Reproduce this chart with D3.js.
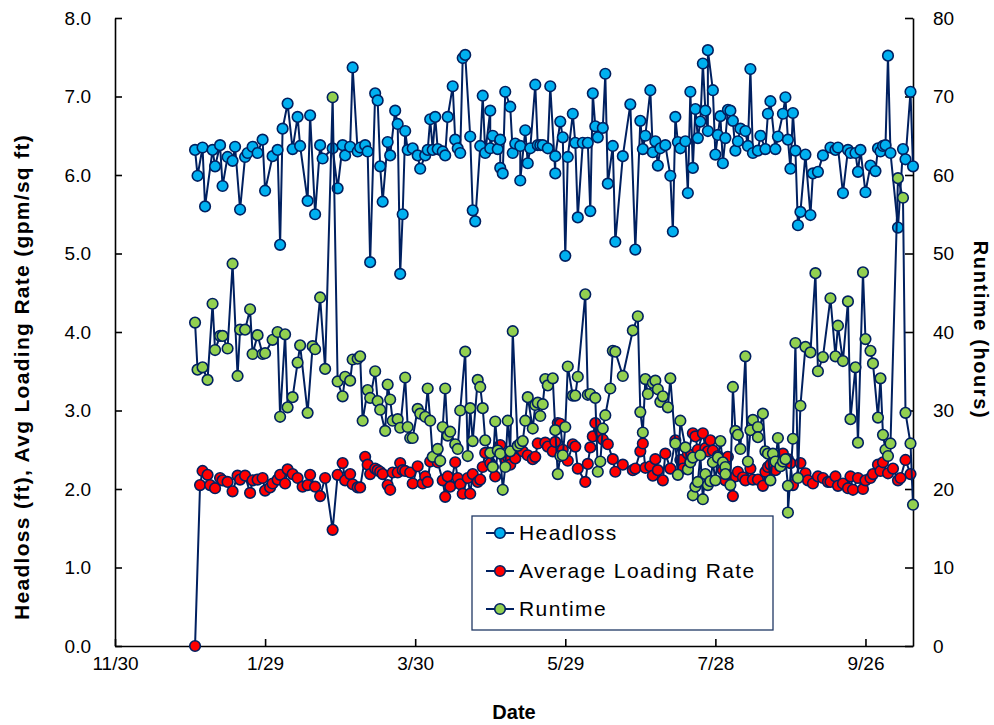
<!DOCTYPE html>
<html>
<head>
<meta charset="utf-8">
<script src="https://cdn.jsdelivr.net/npm/d3@7"></script>
<style>
  html, body { margin: 0; padding: 0; background: #fff; }
  svg { display: block; font-family: "Liberation Sans", Arial, sans-serif; }
</style>
</head>
<body>
<svg id="chart" width="994" height="725"></svg>
<script>
// Filter monitoring record: sample day (days after 11/30), headloss (ft),
// average loading rate (gpm/sq ft) and filter runtime (hours).
const startDate = new Date(2008, 10, 30);

const headlossDays = [32,33,35,36,39,40,42,43,45,47,48,50,52,53,55,57,59,60,63,65,66,67,69,71,73,74,77,78,80,82,83,87,89,91,92,94,95,97,98,100,101,102,104,105,106,107,109,110,112,113,114,115,116,117,119,121,122,124,125,126,127,128,129,131,132,133,135,136,137,138,139,140,142,143,144,146,147,148,150,150,151,153,154,154,155,156,158,159,160,162,162,164,165,166,168,169,170,171,173,174,176,176,178,179,180,181,183,184,185,187,189,190,191,192,193,195,196,197,199,200,203,206,208,210,211,212,214,215,216,217,218,220,222,223,224,225,226,228,229,230,231,232,233,234,235,236,237,237,239,240,241,242,243,244,245,246,247,248,249,250,252,253,254,255,257,258,260,261,262,264,265,267,268,269,270,271,272,273,274,276,278,279,281,283,286,288,289,291,293,294,296,297,298,300,302,304,305,306,307,308,309,310,313,315,316,318,319];
const headlossFt = [6.32,5.99,6.35,5.60,6.32,6.11,6.38,5.86,6.23,6.18,6.36,5.56,6.23,6.28,6.36,6.28,6.45,5.80,6.24,6.32,5.11,6.59,6.91,6.33,6.74,6.37,5.67,6.76,5.50,6.38,6.21,6.34,5.83,6.38,6.25,6.36,7.37,6.30,6.35,6.38,6.30,4.89,7.04,6.95,6.11,5.66,6.42,6.25,6.82,6.65,4.74,5.50,6.56,6.32,6.34,6.25,6.08,6.25,6.32,6.71,6.32,6.74,6.33,6.30,6.25,6.74,7.13,6.45,6.34,6.28,7.49,7.53,6.49,5.55,5.41,6.37,7.01,6.28,6.82,6.34,6.50,6.33,6.45,6.09,6.02,7.06,6.87,6.28,6.40,6.37,5.93,6.57,6.15,6.34,7.15,6.38,6.38,6.38,6.34,7.13,6.02,6.24,6.68,6.48,4.97,6.23,6.78,6.41,5.46,6.41,6.41,5.54,7.04,6.62,6.48,6.60,7.29,5.89,6.37,5.15,6.24,6.90,5.05,6.69,6.33,6.50,7.08,6.29,6.43,6.12,6.34,6.38,5.99,5.28,6.74,6.42,6.34,6.43,5.77,7.06,6.09,6.84,6.47,6.68,7.42,6.82,6.56,7.59,7.08,6.26,6.51,6.75,6.15,6.47,6.83,6.82,6.69,6.31,6.43,6.59,6.56,6.37,7.35,6.28,6.31,6.50,6.33,6.78,6.94,6.33,6.49,6.78,6.99,6.45,6.08,6.79,6.31,5.36,5.53,6.26,5.49,6.02,6.04,6.25,6.35,6.32,6.35,5.77,6.32,6.28,6.28,6.04,6.32,5.78,6.12,6.05,6.34,6.30,6.37,6.38,7.52,6.28,5.33,6.33,6.20,7.06,6.11];

const loadingDays = [32,34,35,37,38,40,42,43,45,47,49,50,52,54,55,57,59,60,62,63,65,66,68,69,71,73,75,77,78,80,82,84,87,89,91,92,94,95,97,98,100,101,102,104,105,106,107,109,110,111,113,114,115,116,118,119,121,123,124,125,126,129,131,132,133,134,136,137,138,139,141,142,143,145,146,147,148,150,151,152,153,154,156,157,158,160,161,163,165,167,168,169,172,173,175,176,177,178,179,181,183,184,185,188,189,190,191,192,194,195,197,199,200,203,207,208,210,211,212,214,215,216,217,219,220,222,224,226,227,229,231,232,233,235,236,237,238,239,241,243,244,245,247,248,249,251,252,254,255,257,259,260,261,262,264,266,267,269,270,271,274,276,277,279,281,283,285,286,288,289,291,293,294,295,297,299,300,302,303,305,306,307,309,311,313,314,316,318];
const loadingRate = [0.00,2.05,2.23,2.18,2.05,2.01,2.14,2.11,2.09,1.97,2.17,2.12,2.17,1.95,2.11,2.12,2.14,1.98,2.02,2.07,2.12,2.18,2.07,2.25,2.19,2.14,2.03,2.05,2.18,2.03,1.91,2.14,1.48,2.18,2.33,2.11,2.19,2.06,2.02,2.02,2.41,2.31,2.19,2.26,2.24,2.22,2.19,2.05,1.99,2.21,2.21,2.33,2.24,2.23,2.21,2.07,2.29,2.07,2.16,2.09,2.35,2.34,2.11,1.90,2.16,2.03,2.34,2.14,2.06,1.94,2.14,1.94,2.19,2.09,2.12,2.28,2.46,2.33,2.28,2.16,2.50,2.56,2.38,2.41,2.31,2.39,2.55,2.48,2.43,2.38,2.41,2.58,2.59,2.54,2.48,2.60,2.84,2.83,2.50,2.36,2.57,2.54,2.26,2.09,2.32,2.53,2.67,2.84,2.73,2.63,2.57,2.38,2.22,2.31,2.24,2.26,2.48,2.58,2.27,2.29,2.17,2.38,2.24,2.11,2.45,2.26,2.62,2.37,2.26,2.45,2.71,2.67,2.50,2.71,2.52,2.48,2.62,2.49,2.42,2.24,2.11,2.41,1.91,2.16,2.22,2.15,2.11,2.26,2.12,2.12,2.04,2.22,2.28,2.31,2.24,2.29,2.45,2.38,2.33,2.05,2.33,2.20,2.11,2.07,2.16,2.14,2.09,2.09,2.16,2.04,2.07,2.01,2.16,1.99,2.14,2.00,2.11,2.14,2.19,2.31,2.23,2.34,2.20,2.26,2.11,2.14,2.37,2.19];

const runtimeDays = [32,33,35,37,39,40,42,43,45,47,49,50,52,54,55,57,59,60,63,65,66,68,69,71,73,74,77,79,80,82,84,87,89,91,92,94,95,97,98,99,101,102,104,105,106,108,109,110,111,113,114,116,117,118,119,121,122,124,125,126,127,129,130,131,132,133,134,136,137,138,140,141,142,143,145,146,147,148,150,151,152,153,154,155,156,157,158,159,161,162,163,164,165,167,168,169,170,171,172,173,175,176,177,178,179,180,181,183,184,185,188,189,190,192,193,194,195,196,198,199,200,203,207,209,210,211,212,213,215,216,217,218,219,221,222,224,225,226,228,229,230,231,231,232,233,234,235,236,237,238,239,240,241,242,243,244,244,246,247,248,249,250,252,253,254,255,257,257,259,260,261,262,263,264,265,266,267,268,269,269,271,272,273,274,276,278,280,281,283,286,288,289,291,293,294,296,297,299,300,302,303,305,306,307,308,309,310,313,315,316,318,319];
const runtimeHours = [41.2,35.2,35.5,33.9,43.6,37.7,39.5,39.5,37.9,48.7,34.4,40.3,40.3,42.9,37.2,39.6,37.2,37.3,39.0,40.0,29.2,39.7,30.4,31.7,36.1,38.3,29.7,38.2,37.8,44.4,35.3,69.9,33.7,31.8,34.3,33.8,36.5,36.6,36.9,28.7,32.6,31.6,35.0,31.2,30.1,27.4,33.3,31.4,28.7,28.9,27.8,34.2,27.9,26.5,26.5,30.2,29.6,29.2,32.8,28.7,24.1,25.1,23.6,27.9,32.8,26.8,27.3,25.7,25.1,30.0,37.5,24.2,30.3,26.1,33.9,33.0,30.3,26.2,24.6,22.8,28.6,24.9,24.5,19.9,22.8,28.7,24.8,40.1,25.5,25.8,26.1,28.7,31.7,27.7,30.7,31.0,29.3,30.8,34.0,33.2,34.1,27.5,21.9,24.2,24.3,27.9,35.6,31.9,31.9,34.3,44.8,32.0,32.1,31.6,22.2,23.5,27.7,29.4,32.8,37.6,37.5,34.4,40.2,42.0,29.8,27.2,34.0,32.1,33.5,33.8,32.7,31.1,31.8,30.4,34.1,25.8,21.8,28.7,25.3,22.5,23.4,24.0,19.2,20.3,20.9,24.3,18.7,21.9,20.5,21.0,23.4,21.1,24.0,26.1,23.4,22.8,21.9,20.5,33.0,27.4,26.9,25.1,36.9,23.5,27.5,28.8,27.9,26.6,29.6,24.8,24.5,21.1,24.5,23.5,26.5,22.9,23.5,23.8,20.4,17.0,26.4,38.6,21.4,30.6,38.1,37.4,47.5,35.0,36.8,44.3,36.9,40.8,36.3,43.9,28.9,35.5,25.9,47.6,39.1,37.6,36.0,29.1,34.1,26.9,25.0,24.2,25.8,59.6,57.1,29.7,25.8,18.0];

const leftTicks = [0,1,2,3,4,5,6,7,8];
const rightTicks = [0,10,20,30,40,50,60,70,80];
const dateTickDays = [0,60,120,180,240,300];
const lastAxisDay = 319;

const seriesNames = ["Headloss", "Average Loading Rate", "Runtime"];
const seriesFills = ["#00b0f0", "#ff0000", "#92d050"];
const lineColor = "#002060";

const svg = d3.select("#chart");
const margin = { left: 115, right: 913, top: 18, bottom: 646 };

const toDate = d => d3.timeDay.offset(startDate, d);
const x = d3.scaleTime().domain([toDate(0), toDate(lastAxisDay)]).range([margin.left, margin.right]);
const yL = d3.scaleLinear().domain([0, 8]).range([margin.bottom, margin.top]);
const yR = d3.scaleLinear().domain([0, 80]).range([margin.bottom, margin.top]);

const fmtDate = d3.timeFormat("%-m/%-d");

// Axes with inward tick marks
const gx = svg.append("g").attr("transform", `translate(0,${margin.bottom})`)
  .call(d3.axisBottom(x).tickValues(dateTickDays.map(toDate)).tickFormat(fmtDate)
    .tickSizeInner(-7).tickSizeOuter(0).tickPadding(11));
const gl = svg.append("g").attr("transform", `translate(${margin.left},0)`)
  .call(d3.axisLeft(yL).tickValues(leftTicks).tickFormat(d3.format(".1f"))
    .tickSizeInner(-7).tickSizeOuter(0).tickPadding(24));
const gr = svg.append("g").attr("transform", `translate(${margin.right},0)`)
  .call(d3.axisRight(yR).tickValues(rightTicks).tickFormat(d3.format("d"))
    .tickSizeInner(-8).tickSizeOuter(0).tickPadding(20));

[gx, gl, gr].forEach(g => {
  g.select(".domain").attr("stroke", "#000").attr("stroke-width", 1.6);
  g.selectAll(".tick line").attr("stroke", "#000").attr("stroke-width", 1.6);
  g.selectAll(".tick text").attr("fill", "#000").style("font-size", "19px")
    .style("font-family", "'Liberation Sans', Arial, sans-serif");
});

// Axis titles
svg.append("text").attr("x", 514).attr("y", 719).attr("text-anchor", "middle")
  .style("font-size", "20px").style("font-weight", "bold").text("Date");
svg.append("text").attr("transform", "translate(22,377) rotate(-90)").attr("text-anchor", "middle")
  .attr("dy", "0.35em").style("font-size", "21px").style("font-weight", "bold")
  .style("letter-spacing", "1.3px")
  .text("Headloss (ft), Avg Loading Rate (gpm/sq ft)");
svg.append("text").attr("transform", "translate(981,330) rotate(90)").attr("text-anchor", "middle")
  .attr("dy", "0.35em").style("font-size", "20px").style("font-weight", "bold")
  .style("letter-spacing", "1.6px")
  .text("Runtime (hours)");

// Series: line first, then markers; runtime on the secondary axis drawn last
const series = [
  { days: headlossDays, vals: headlossFt, y: yL },
  { days: loadingDays, vals: loadingRate, y: yL },
  { days: runtimeDays, vals: runtimeHours, y: yR }
];

series.forEach((s, i) => {
  const pts = s.days.map((d, k) => [x(toDate(d)), s.y(s.vals[k])]);
  const g = svg.append("g");
  g.append("path").attr("d", d3.line()(pts)).attr("fill", "none")
    .attr("stroke", lineColor).attr("stroke-width", 2).attr("stroke-linejoin", "round");
  g.selectAll("circle").data(pts).join("circle")
    .attr("cx", p => p[0]).attr("cy", p => p[1]).attr("r", 5.3)
    .attr("fill", seriesFills[i]).attr("stroke", lineColor).attr("stroke-width", 1.6);
});

// Legend
const lg = svg.append("g").attr("transform", "translate(472,516)");
lg.append("rect").attr("width", 301).attr("height", 114).attr("fill", "#fff")
  .attr("stroke", "#203864").attr("stroke-width", 1.3);
seriesNames.forEach((name, i) => {
  const cy = 17 + i * 38;
  lg.append("line").attr("x1", 14).attr("x2", 42).attr("y1", cy).attr("y2", cy)
    .attr("stroke", lineColor).attr("stroke-width", 2);
  lg.append("circle").attr("cx", 28).attr("cy", cy).attr("r", 5.3)
    .attr("fill", seriesFills[i]).attr("stroke", lineColor).attr("stroke-width", 1.6);
  lg.append("text").attr("x", 47).attr("y", cy).attr("dy", "0.35em")
    .style("font-size", "21px").style("letter-spacing", "1.4px").text(name);
});
</script>
</body>
</html>
